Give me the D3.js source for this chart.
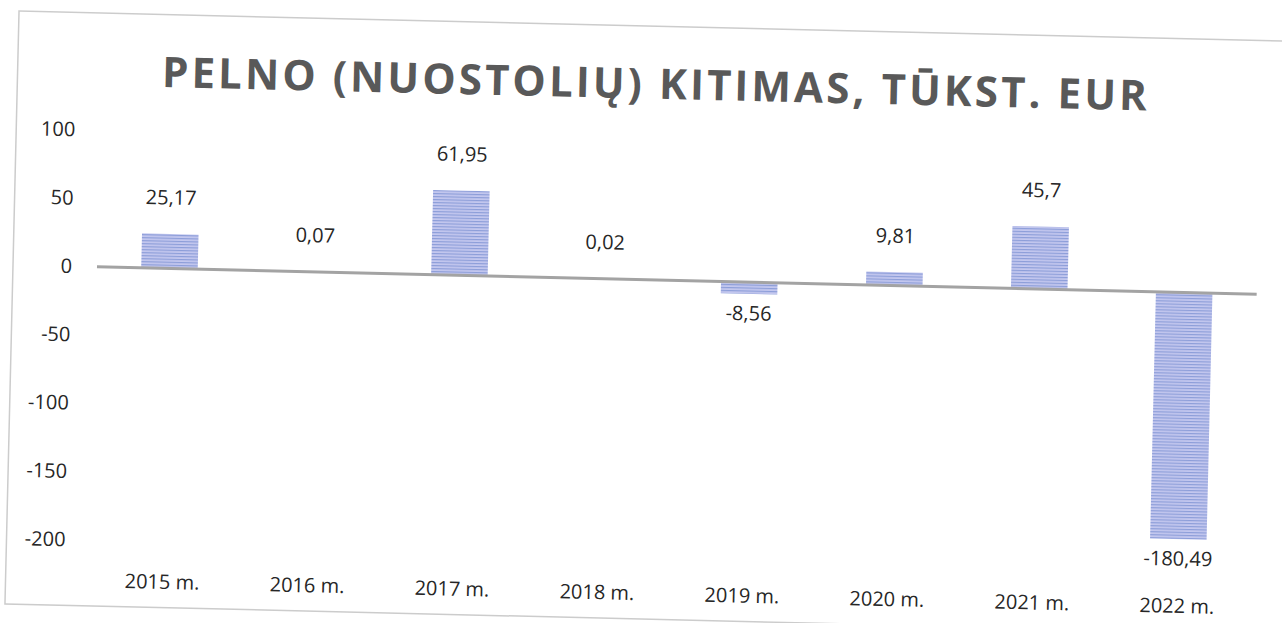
<!DOCTYPE html>
<html>
<head>
<meta charset="utf-8">
<script src="https://cdn.jsdelivr.net/npm/d3@7"></script>
<style>
    body { margin: 0; background: #ffffff; }
    text { font-family: "Open Sans", "Noto Sans", sans-serif; }
</style>
</head>
<body>
<div id="chart"></div>
<script>
// data
var years = ["2015 m.", "2016 m.", "2017 m.", "2018 m.", "2019 m.", "2020 m.", "2021 m.", "2022 m."];
var profit = [25.17, 0.07, 61.95, 0.02, -8.56, 9.81, 45.7, -180.49];
var yTicks = [100, 50, 0, -50, -100, -150, -200];
var title = "PELNO (NUOSTOLIŲ) KITIMAS, TŪKST. EUR";

var width = 1282, height = 623;

var svg = d3.select("#chart").append("svg")
    .attr("width", width)
    .attr("height", height);

// stripe fill for the bars
var defs = svg.append("defs");
var pat = defs.append("pattern")
    .attr("id", "stripes")
    .attr("patternUnits", "userSpaceOnUse")
    .attr("width", 6)
    .attr("height", 3);
pat.append("rect").attr("width", 6).attr("height", 3).attr("fill", "#c4c8ef");
pat.append("rect").attr("width", 6).attr("height", 1.2).attr("fill", "#8d9ed9");

// the scan is slightly tilted, so the whole chart is rotated a little
var g = svg.append("g")
    .attr("transform", "translate(97,266) rotate(1.36)");

var x = d3.scaleBand()
    .domain(years)
    .range([0, 1160])
    .paddingInner(0.61)
    .paddingOuter(0.305);

var y = d3.scaleLinear()
    .domain([-200, 100])
    .range([274, -136]);

// chart frame
g.append("rect")
    .attr("x", -84)
    .attr("y", -253)
    .attr("width", 1420)
    .attr("height", 593)
    .attr("fill", "none")
    .attr("stroke", "#cccccc")
    .attr("stroke-width", 1.5);

g.append("text")
    .attr("x", 553)
    .attr("y", -197)
    .attr("text-anchor", "middle")
    .attr("dominant-baseline", "central")
    .attr("font-size", 42)
    .attr("font-weight", "bold")
    .attr("fill", "#595959")
    .attr("textLength", 985)
    .attr("lengthAdjust", "spacing")
    .text(title);

// y axis labels (plain hyphen for negatives, like the original)
var yAxis = g.append("g")
    .call(d3.axisLeft(y).tickValues(yTicks).tickSize(0).tickPadding(25)
        .tickFormat(function (d) { return String(d); }));
yAxis.select(".domain").remove();
yAxis.selectAll("text")
    .attr("font-size", 20)
    .attr("fill", "#262626")
    .style("font-family", "'Open Sans', sans-serif");

// category labels
var xAxis = g.append("g")
    .attr("transform", "translate(0," + y(-200) + ")")
    .call(d3.axisBottom(x).tickSize(0).tickPadding(33));
xAxis.select(".domain").remove();
xAxis.selectAll("text")
    .attr("font-size", 20)
    .attr("fill", "#262626")
    .style("font-family", "'Open Sans', sans-serif");

// bars
g.selectAll(".bar")
    .data(profit)
    .enter().append("rect")
    .attr("class", "bar")
    .attr("x", function (d, i) { return x(years[i]); })
    .attr("y", function (d) { return y(Math.max(0, d)); })
    .attr("width", x.bandwidth())
    .attr("height", function (d) { return Math.abs(y(d) - y(0)); })
    .attr("fill", "url(#stripes)");

// zero line
g.append("line")
    .attr("x1", 0)
    .attr("x2", 1160)
    .attr("y1", y(0))
    .attr("y2", y(0))
    .attr("stroke", "#a3a3a3")
    .attr("stroke-width", 3);

// value labels
g.selectAll(".val")
    .data(profit)
    .enter().append("text")
    .attr("class", "val")
    .attr("x", function (d, i) { return x(years[i]) + x.bandwidth() / 2; })
    .attr("y", function (d) { return d >= 0 ? y(d) - 37 : y(d) + 19; })
    .attr("text-anchor", "middle")
    .attr("dominant-baseline", "central")
    .attr("font-size", 20)
    .attr("fill", "#262626")
    .text(function (d) { return String(d).replace(".", ","); });
</script>
</body>
</html>
